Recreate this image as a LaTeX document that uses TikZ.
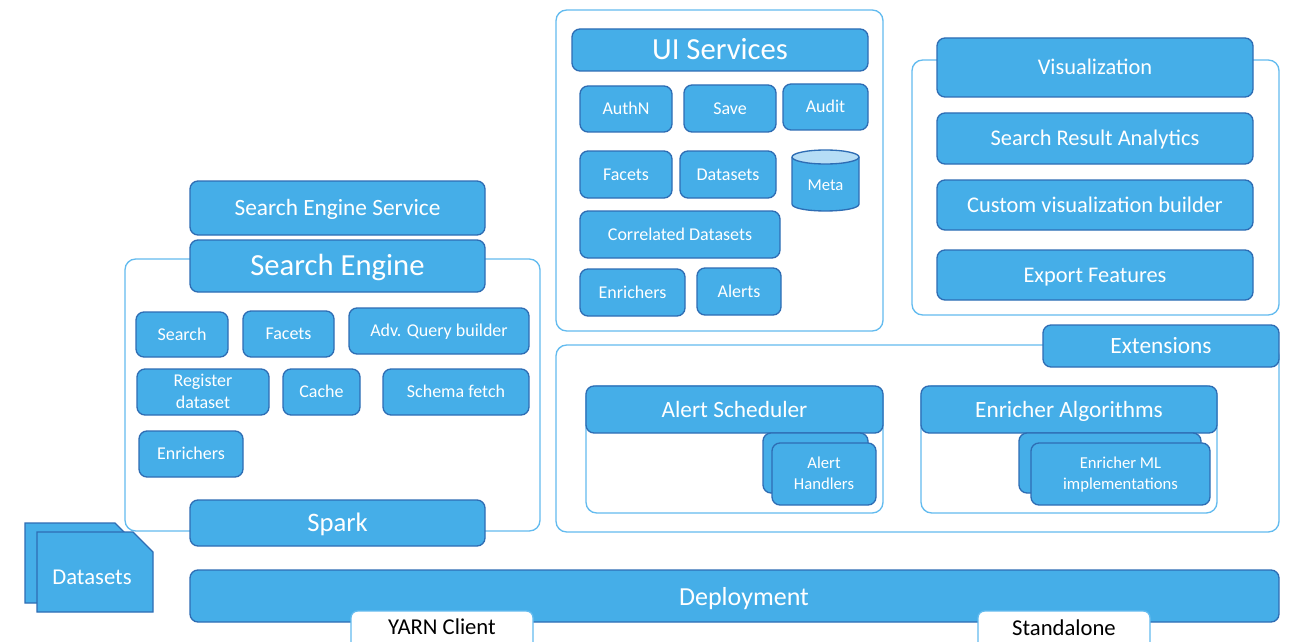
\documentclass[tikz,border=0pt]{standalone}
\usepackage{fontspec}
\setmainfont{Carlito}
\definecolor{bfill}{HTML}{45AEE8}
\definecolor{bline}{HTML}{2E6DB4}
\definecolor{cline}{HTML}{63BBEF}
\definecolor{mtop}{HTML}{B5DDF6}
\tikzset{
  box/.style={draw=bline, fill=bfill, line width=1pt, rounded corners=6pt, text=white, inner sep=0pt, align=center, font=\fontsize{13.5}{15.5}\selectfont},
  bigtxt/.style={font=\fontsize{23}{26}\selectfont},
  midtxt/.style={font=\fontsize{17.5}{20}\selectfont},
  vistxt/.style={font=\fontsize{16.8}{19}\selectfont},
  smalltxt/.style={font=\fontsize{12.5}{14}\selectfont},
  cont/.style={draw=cline, fill=white, line width=1pt, rounded corners=8pt, inner sep=0pt},
  tag/.style={draw=cline, fill=white, line width=1pt, rounded corners=5pt, inner sep=0pt},
  tagtxt/.style={text=black, inner sep=0pt, font=\fontsize{17}{20}\selectfont},
  freetxt/.style={text=white, inner sep=0pt},
  snip/.style={draw=bline, fill=bfill, line width=1pt},
}
% text whose capitals are centred on the node centre
\newcommand\captxt[1]{\smash{#1}\rule{0pt}{0.644em}}
% \ubox[style]{name}{x1}{y1}{x2}{y2}{text}
\newcommand\uboxm[7][box]{%
  \node[#1, minimum width={(#5-#3)*0.75pt}, minimum height={(#6-#4)*0.75pt}]
    (#2) at ({(#3+#5)/2},{(#4+#6)/2}) {#7};}
\newcommand\ubox[7][box]{\uboxm[#1]{#2}{#3}{#4}{#5}{#6}{\captxt{#7}}}
\begin{document}
\begin{tikzpicture}[x=0.75pt,y=-0.75pt]
\useasboundingbox (0,0) rectangle (1293,642);
\fill[white] (0,0) rectangle (1293,642);

% ---------- containers ----------
\uboxm[cont]{secont}{125}{259}{540}{531}{}
\uboxm[cont]{uicont}{556}{10}{883}{331}{}
\uboxm[cont]{viscont}{912}{60}{1279}{315}{}
\uboxm[cont]{extcont}{556}{345}{1279}{532}{}
\uboxm[cont]{ascont}{586}{386}{883}{513}{}
\uboxm[cont]{eacont}{921}{386}{1217}{513}{}

% ---------- Search engine ----------
\ubox[box,midtxt]{ses}{190}{181}{485}{235}{Search Engine Service}
\ubox[box,bigtxt]{se}{190}{240}{485}{292}{Search Engine}
\ubox{search}{136}{312}{228}{357}{Search}
\ubox{sfacets}{243}{311}{334}{357}{Facets}
\ubox{aqb}{349}{308}{529}{354}{Adv. Query builder}
\uboxm{reg}{137}{369}{269}{415}{\captxt{Register}\\[1pt]\captxt{dataset}}
\ubox{cache}{283}{369}{360}{415}{Cache}
\ubox{schema}{383}{369}{529}{415}{Schema fetch}
\ubox{senr}{139}{431}{243}{477}{Enrichers}
\ubox[box,font=\fontsize{20}{23}\selectfont]{spark}{190}{500}{485}{546}{Spark}

% ---------- Datasets stack ----------
\draw[snip] (25,523) -- (115,523) -- (135,543) -- (135,603) -- (25,603) -- cycle;
\draw[snip] (37,532) -- (133,532) -- (153,552) -- (153,612) -- (37,612) -- cycle;
\node[freetxt, font=\fontsize{17}{20}\selectfont] (datasets) at (92,577) {\captxt{Datasets}};

% ---------- Deployment ----------
\uboxm[box]{deploy}{190}{570}{1279}{622}{}
\node[freetxt, font=\fontsize{19.5}{22}\selectfont] (deploylbl) at (744,597) {\captxt{Deployment}};
\uboxm[tag]{yarnbox}{351}{611}{533}{650}{}
\node[tagtxt] (yarn) at (442,627) {\captxt{YARN Client}};
\uboxm[tag]{standbox}{978}{611}{1150}{650}{}
\node[tagtxt] (stand) at (1064,628) {\captxt{Standalone}};

% ---------- UI Services ----------
\ubox[box,bigtxt]{ui}{572}{29}{868}{71}{UI Services}
\ubox{authn}{580}{86}{672}{132}{AuthN}
\ubox{save}{684}{85}{776}{132}{Save}
\ubox{audit}{783}{84}{868}{130}{Audit}
\ubox{ufacets}{580}{151}{672}{198}{Facets}
\ubox{udatasets}{680}{151}{776}{198}{Datasets}
\ubox{corr}{580}{211}{780}{258}{Correlated Datasets}
\ubox{uenr}{580}{269}{685}{316}{Enrichers}
\ubox{alerts}{697}{268}{781}{315}{Alerts}
% Meta cylinder
\draw[draw=bline, fill=bfill, line width=1pt] (792,157) -- (792,204) .. controls (792,213.3) and (859,213.3) .. (859,204) -- (859,157);
\draw[draw=bline, fill=mtop, line width=1pt] (825.5,157) ellipse [x radius=33.5, y radius=7];
\node[freetxt, smalltxt] (meta) at (825.5,185) {\captxt{Meta}};

% ---------- Visualization ----------
\ubox[box,vistxt]{vis}{937}{38}{1253}{97}{Visualization}
\ubox[box,vistxt]{sra}{937}{113}{1253}{164}{Search Result Analytics}
\ubox[box,vistxt]{cvb}{937}{180}{1253}{230}{Custom visualization builder}
\ubox[box,vistxt]{exp}{937}{250}{1253}{300}{Export Features}

% ---------- Extensions ----------
\ubox[box,midtxt]{ext}{1043}{325}{1279}{367}{Extensions}
\ubox[box,midtxt]{as}{586}{386}{883}{433}{Alert Scheduler}
\uboxm{ahback}{763}{433}{868}{493}{}
\uboxm[box,smalltxt]{ah}{772}{443}{876}{505}{\captxt{Alert}\\[1.75pt]\captxt{Handlers}}
\ubox[box,midtxt]{ea}{921}{386}{1217}{433}{Enricher Algorithms}
\uboxm{emlback}{1019}{433}{1201}{493}{}
\uboxm[box,smalltxt]{eml}{1031}{443}{1210}{505}{\captxt{Enricher ML}\\[1.75pt]\captxt{implementations}}
\end{tikzpicture}
\end{document}
